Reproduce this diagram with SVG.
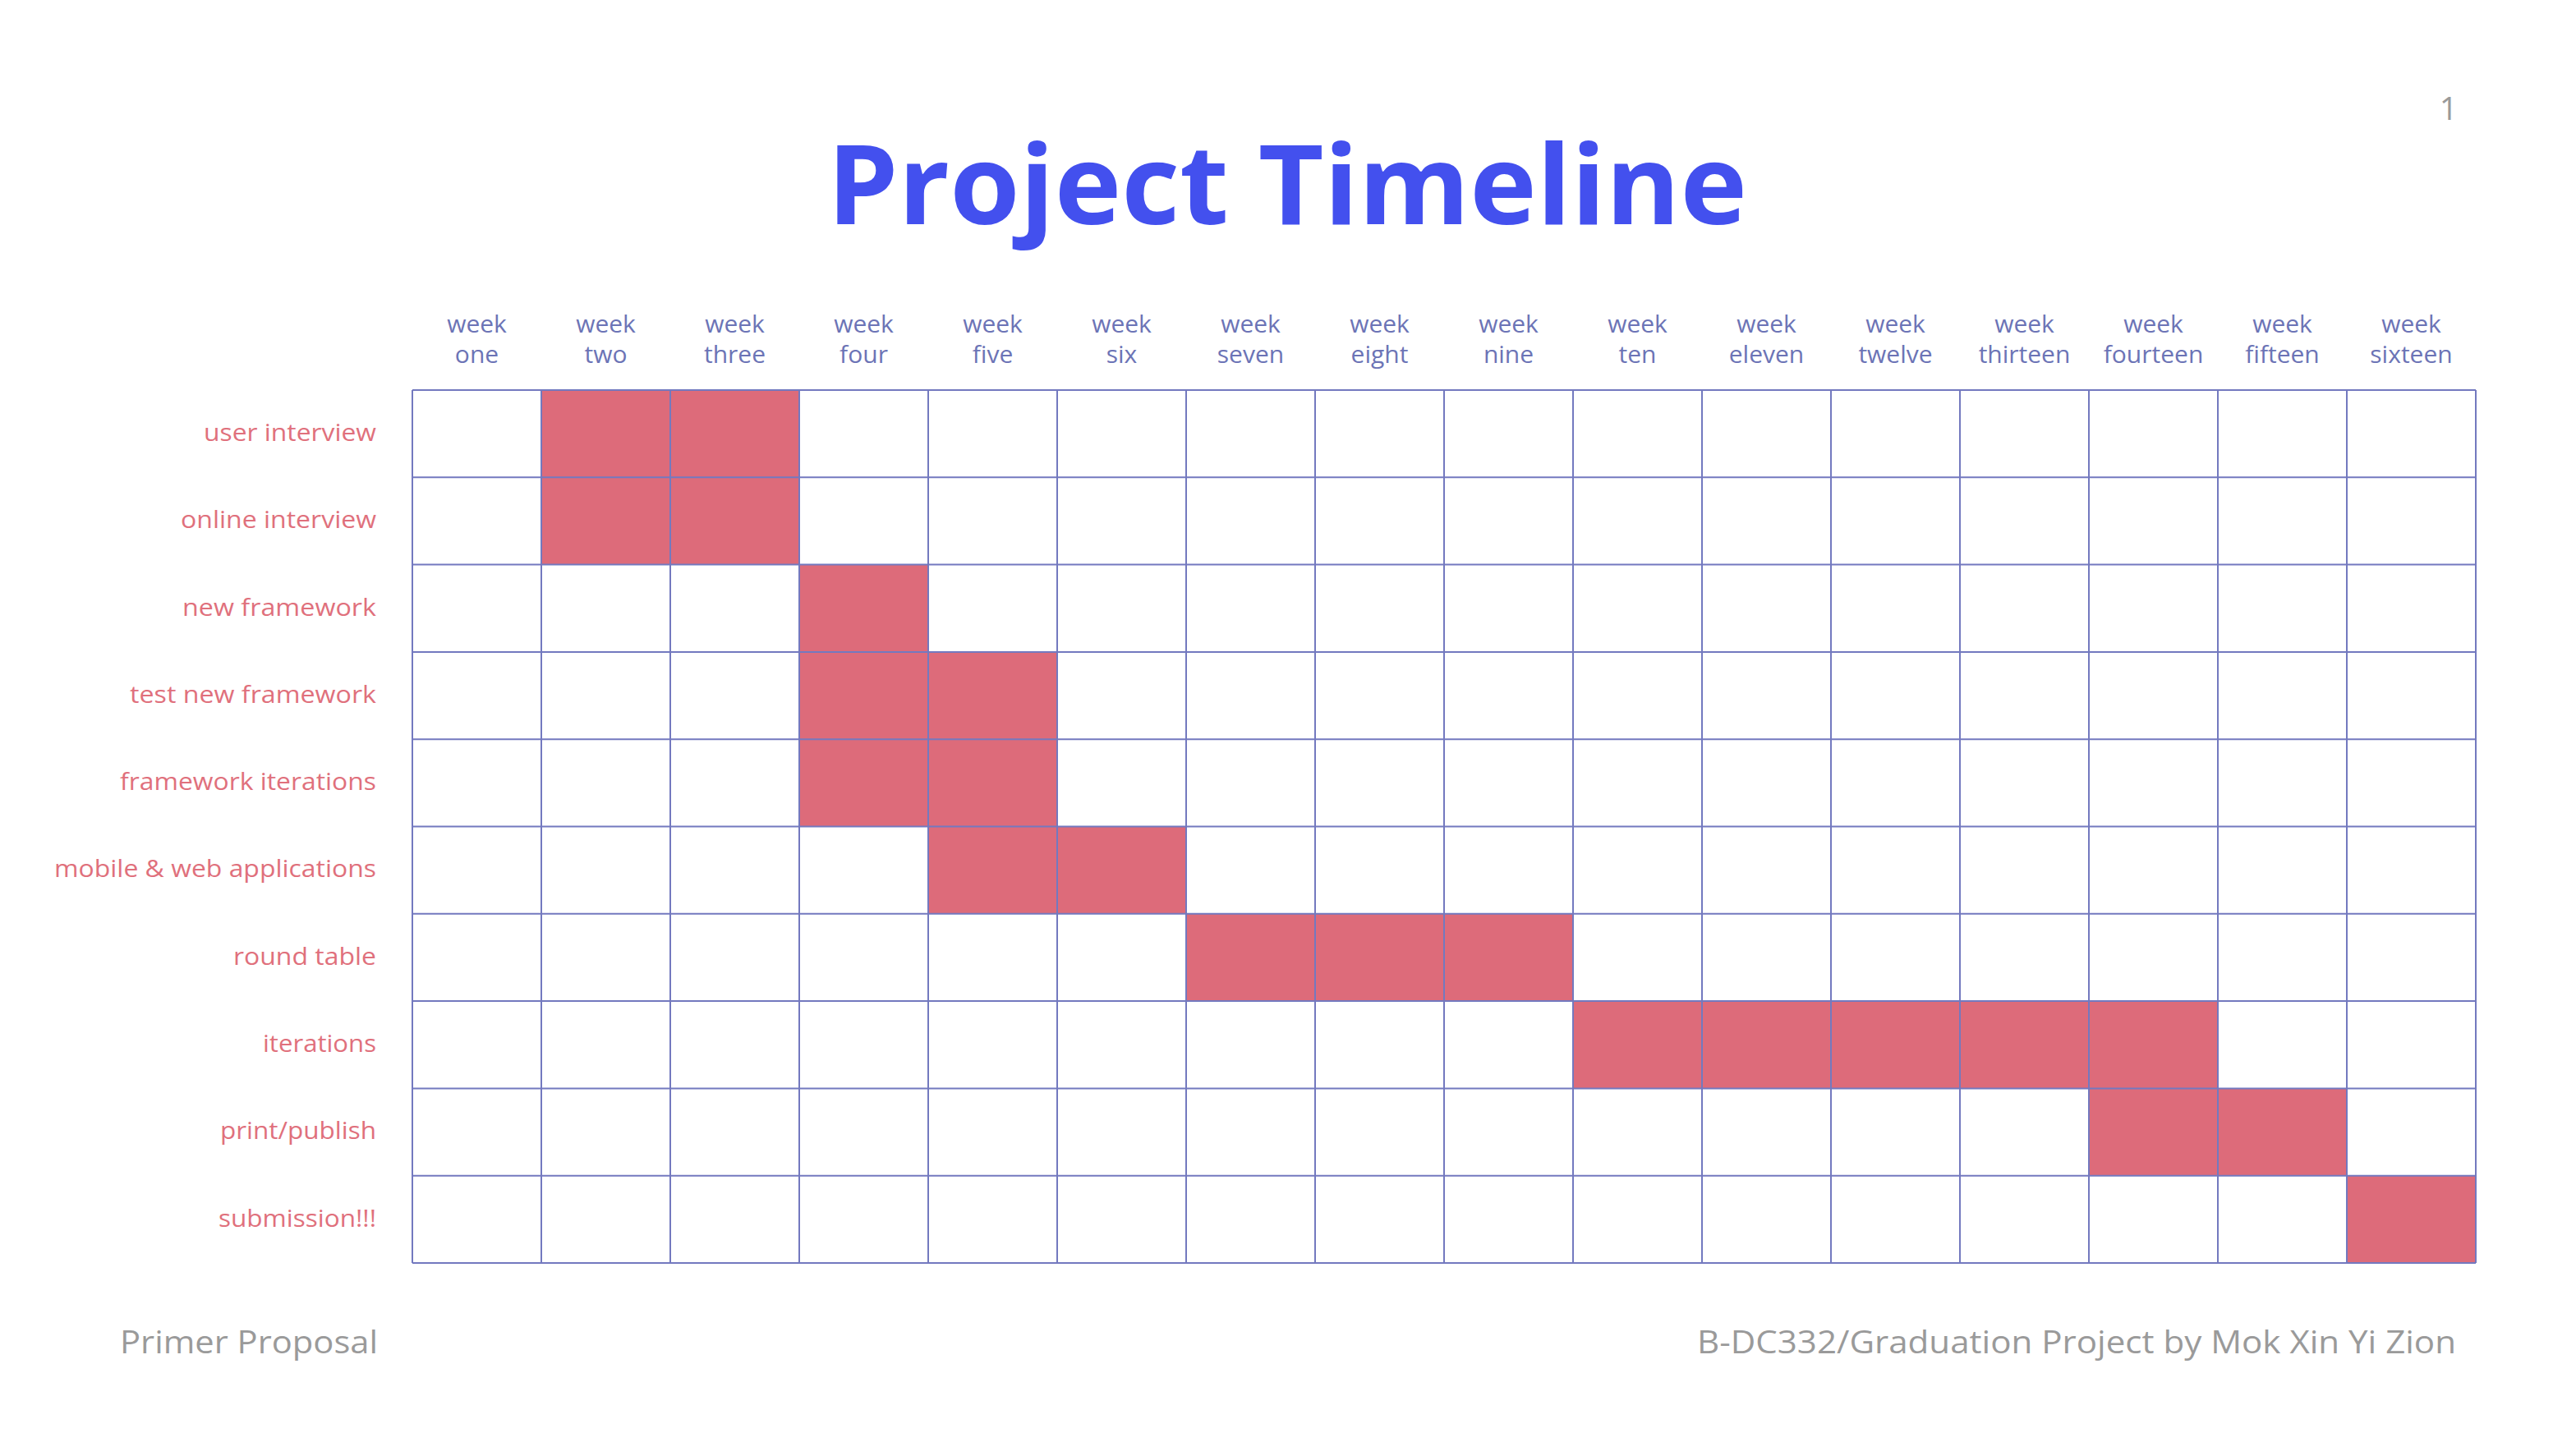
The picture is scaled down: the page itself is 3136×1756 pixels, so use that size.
<svg xmlns="http://www.w3.org/2000/svg" width="3136" height="1756" viewBox="0 0 3136 1756">
<style>
.title{font-family:"Open Sans","Liberation Sans",sans-serif;font-weight:700;font-size:134px;fill:#4350EE}
.wk{font-family:"Open Sans","Liberation Sans",sans-serif;font-size:30px;fill:#6C74B6;text-anchor:middle}
.lbl{font-family:"Open Sans","Liberation Sans",sans-serif;font-size:30px;fill:#E0707C;text-anchor:end}
.foot{font-family:"Open Sans","Liberation Sans",sans-serif;font-size:39px;fill:#9A9A9A}
.bar{fill:#DD6B7A}
.grid line{stroke:#7379BF;stroke-width:2}
</style>
<rect width="3136" height="1756" fill="#FFFFFF"/>
<text class="title" x="1567" y="273" text-anchor="middle" textLength="1120" lengthAdjust="spacingAndGlyphs">Project Timeline</text>
<text class="foot" x="2992" y="146" text-anchor="end" font-size="38">1</text>
<g id="headers">
<text class="wk" x="580.5" y="405">week</text><text class="wk" x="580.5" y="442">one</text>
<text class="wk" x="737.5" y="405">week</text><text class="wk" x="737.5" y="442">two</text>
<text class="wk" x="894.5" y="405">week</text><text class="wk" x="894.5" y="442">three</text>
<text class="wk" x="1051.5" y="405">week</text><text class="wk" x="1051.5" y="442">four</text>
<text class="wk" x="1208.5" y="405">week</text><text class="wk" x="1208.5" y="442">five</text>
<text class="wk" x="1365.5" y="405">week</text><text class="wk" x="1365.5" y="442">six</text>
<text class="wk" x="1522.5" y="405">week</text><text class="wk" x="1522.5" y="442">seven</text>
<text class="wk" x="1679.5" y="405">week</text><text class="wk" x="1679.5" y="442">eight</text>
<text class="wk" x="1836.5" y="405">week</text><text class="wk" x="1836.5" y="442">nine</text>
<text class="wk" x="1993.5" y="405">week</text><text class="wk" x="1993.5" y="442">ten</text>
<text class="wk" x="2150.5" y="405">week</text><text class="wk" x="2150.5" y="442">eleven</text>
<text class="wk" x="2307.5" y="405">week</text><text class="wk" x="2307.5" y="442">twelve</text>
<text class="wk" x="2464.5" y="405">week</text><text class="wk" x="2464.5" y="442">thirteen</text>
<text class="wk" x="2621.5" y="405">week</text><text class="wk" x="2621.5" y="442">fourteen</text>
<text class="wk" x="2778.5" y="405">week</text><text class="wk" x="2778.5" y="442">fifteen</text>
<text class="wk" x="2935.5" y="405">week</text><text class="wk" x="2935.5" y="442">sixteen</text>
</g>
<g id="labels">
<text class="lbl" x="458" y="537" textLength="210" lengthAdjust="spacingAndGlyphs">user interview</text>
<text class="lbl" x="458" y="643" textLength="238" lengthAdjust="spacingAndGlyphs">online interview</text>
<text class="lbl" x="458" y="750" textLength="236" lengthAdjust="spacingAndGlyphs">new framework</text>
<text class="lbl" x="458" y="856" textLength="300" lengthAdjust="spacingAndGlyphs">test new framework</text>
<text class="lbl" x="458" y="962" textLength="312" lengthAdjust="spacingAndGlyphs">framework iterations</text>
<text class="lbl" x="458" y="1068" textLength="392" lengthAdjust="spacingAndGlyphs">mobile &amp; web applications</text>
<text class="lbl" x="458" y="1175" textLength="174" lengthAdjust="spacingAndGlyphs">round table</text>
<text class="lbl" x="458" y="1281" textLength="138" lengthAdjust="spacingAndGlyphs">iterations</text>
<text class="lbl" x="458" y="1387" textLength="190" lengthAdjust="spacingAndGlyphs">print/publish</text>
<text class="lbl" x="458" y="1494" textLength="192" lengthAdjust="spacingAndGlyphs">submission!!!</text>
</g>
<g id="bars">
<rect class="bar" x="659" y="475" width="314" height="212.6"/>
<rect class="bar" x="973" y="687.6" width="157" height="106.3"/>
<rect class="bar" x="973" y="793.9" width="314" height="212.6"/>
<rect class="bar" x="1130" y="1006.5" width="314" height="106.3"/>
<rect class="bar" x="1444" y="1112.8" width="471" height="106.3"/>
<rect class="bar" x="1915" y="1219.1" width="785" height="106.3"/>
<rect class="bar" x="2543" y="1325.4" width="314" height="106.3"/>
<rect class="bar" x="2857" y="1431.7" width="157" height="106.3"/>
</g>
<g id="connectors" class="grid">
<line x1="502" y1="475" x2="3014" y2="475"/>
<line x1="502" y1="581.3" x2="3014" y2="581.3"/>
<line x1="502" y1="687.6" x2="3014" y2="687.6"/>
<line x1="502" y1="793.9" x2="3014" y2="793.9"/>
<line x1="502" y1="900.2" x2="3014" y2="900.2"/>
<line x1="502" y1="1006.5" x2="3014" y2="1006.5"/>
<line x1="502" y1="1112.8" x2="3014" y2="1112.8"/>
<line x1="502" y1="1219.1" x2="3014" y2="1219.1"/>
<line x1="502" y1="1325.4" x2="3014" y2="1325.4"/>
<line x1="502" y1="1431.7" x2="3014" y2="1431.7"/>
<line x1="502" y1="1538" x2="3014" y2="1538"/>
<line x1="502" y1="475" x2="502" y2="1538"/>
<line x1="659" y1="475" x2="659" y2="1538"/>
<line x1="816" y1="475" x2="816" y2="1538"/>
<line x1="973" y1="475" x2="973" y2="1538"/>
<line x1="1130" y1="475" x2="1130" y2="1538"/>
<line x1="1287" y1="475" x2="1287" y2="1538"/>
<line x1="1444" y1="475" x2="1444" y2="1538"/>
<line x1="1601" y1="475" x2="1601" y2="1538"/>
<line x1="1758" y1="475" x2="1758" y2="1538"/>
<line x1="1915" y1="475" x2="1915" y2="1538"/>
<line x1="2072" y1="475" x2="2072" y2="1538"/>
<line x1="2229" y1="475" x2="2229" y2="1538"/>
<line x1="2386" y1="475" x2="2386" y2="1538"/>
<line x1="2543" y1="475" x2="2543" y2="1538"/>
<line x1="2700" y1="475" x2="2700" y2="1538"/>
<line x1="2857" y1="475" x2="2857" y2="1538"/>
<line x1="3014" y1="475" x2="3014" y2="1538"/>
</g>
<text class="foot" x="146" y="1648" textLength="314" lengthAdjust="spacingAndGlyphs">Primer Proposal</text>
<text class="foot" x="2990" y="1648" text-anchor="end" textLength="924" lengthAdjust="spacingAndGlyphs">B-DC332/Graduation Project by Mok Xin Yi Zion</text>
</svg>
